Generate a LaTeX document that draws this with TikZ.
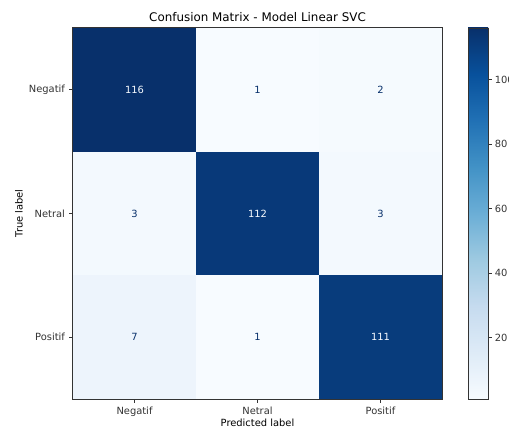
\documentclass[tikz,border=0pt]{standalone}
\usepackage{fontspec}
\setmainfont{DejaVu Sans}
\usetikzlibrary{positioning}

% Blues colormap
\definecolor{blue0}{RGB}{247,251,255}
\definecolor{blue1}{RGB}{222,235,247}
\definecolor{blue2}{RGB}{198,219,239}
\definecolor{blue3}{RGB}{158,202,225}
\definecolor{blue4}{RGB}{107,174,214}
\definecolor{blue5}{RGB}{66,146,198}
\definecolor{blue6}{RGB}{33,113,181}
\definecolor{blue7}{RGB}{8,81,156}
\definecolor{blue8}{RGB}{8,48,107}
\pgfdeclareverticalshading{blues}{100bp}{color(0bp)=(blue0); color(25bp)=(blue0);
  color(31.25bp)=(blue1); color(37.5bp)=(blue2); color(43.75bp)=(blue3);
  color(50bp)=(blue4); color(56.25bp)=(blue5); color(62.5bp)=(blue6);
  color(68.75bp)=(blue7); color(75bp)=(blue8); color(100bp)=(blue8)}

\begin{document}
\begin{tikzpicture}[x=1pt,y=-1pt]
  \definecolor{val116}{RGB}{8,48,107}
  \definecolor{val112}{RGB}{8,57,121}
  \definecolor{val111}{RGB}{8,60,124}
  \definecolor{val7}{RGB}{237,244,252}
  \definecolor{val3}{RGB}{243,249,254}
  \definecolor{val2}{RGB}{245,250,254}
  \definecolor{val1}{RGB}{247,251,255}
  \tikzstyle{every node}=[inner sep=0pt, font=\fontsize{9.9}{11}\selectfont]
  \tikzstyle{cell}=[minimum width=123pt, minimum height=123.7pt]
  \tikzstyle{dark}=[cell, text=blue0]
  \tikzstyle{light}=[cell, text=blue8]
  \tikzstyle{frame}=[draw=black!80, line width=0.8pt]
  \tikzstyle{tick}=[black!80, line width=0.8pt]

  \useasboundingbox (0,0) rectangle (509,430);

  % matrix cells
  \node[dark, fill=val116] (negneg) at (134.5,89.8) {116};
  \node[light, fill=val1] (negnet) at (257.5,89.8) {1};
  \node[light, fill=val2] (negpos) at (380.5,89.8) {2};
  \node[light, fill=val3] (netneg) at (134.5,213.5) {3};
  \node[dark, fill=val112] (netnet) at (257.5,213.5) {112};
  \node[light, fill=val3] (netpos) at (380.5,213.5) {3};
  \node[light, fill=val7] (posneg) at (134.5,337.2) {7};
  \node[light, fill=val1] (posnet) at (257.5,337.2) {1};
  \node[dark, fill=val111] (pospos) at (380.5,337.2) {111};
  \draw[frame] (negneg.north west) rectangle (pospos.south east);

  % y axis
  \draw[tick] (negneg.west) -- ++(-3.5,0) node[left=4pt] (ylneg) {Negatif};
  \draw[tick] (netneg.west) -- ++(-3.5,0) node[left=4pt] (ylnet) {Netral};
  \draw[tick] (posneg.west) -- ++(-3.5,0) node[left=4pt] (ylpos) {Positif};
  \node[rotate=90] (ylabel) at (19,213.5) {True label};

  % x axis
  \draw[tick] (posneg.south) -- ++(0,3.5) node[below=3.5pt] (xlneg) {Negatif};
  \draw[tick] (posnet.south) -- ++(0,3.5) node[below=3.5pt] (xlnet) {Netral};
  \draw[tick] (pospos.south) -- ++(0,3.5) node[below=3.5pt] (xlpos) {Positif};
  \node[below=4pt of xlnet] (xlabel) {Predicted label};

  \node[font=\fontsize{11.9}{14}\selectfont] (title) at (257.5,17) {Confusion Matrix - Model Linear SVC};

  % colorbar
  \node[frame, shading=blues, minimum width=20pt, minimum height=371pt] (cbar) at (478,213.5) {};
  \foreach \v in {20,40,...,100}
    \draw[tick] (cbar.east |- 0,{399-(\v-1)*3.226}) -- ++(3.5,0) node[right=2.5pt] {\v};
\end{tikzpicture}
\end{document}
